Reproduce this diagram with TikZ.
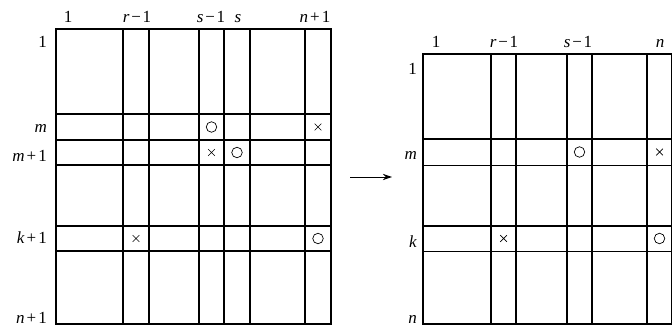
\documentclass[tikz,border=0pt]{standalone}
\usepackage{fontspec}
\setmainfont{Liberation Serif}
\usetikzlibrary{arrows.meta,shapes.misc}
\tikzset{
  gridline/.style={line width=1.3pt,line cap=rect},
  lbl/.style={font=\fontsize{17}{19}\selectfont,inner sep=0pt},
  toplbl/.style={lbl,anchor=base},
  rowlbl/.style={lbl,anchor=base east},
  ringmark/.style={circle,draw,line width=0.7pt,minimum size=10.5pt,inner sep=0pt},
  crossmark/.style={cross out,draw,line width=0.7pt,minimum size=6pt,inner sep=0pt},
  flow/.style={-{Stealth[length=3.2mm,width=2.2mm]},line width=1pt}
}
\newcommand{\plusone}[1]{\textit{#1}\hspace{0.12em}+\hspace{0.12em}1}
\newcommand{\minusone}[1]{\textit{#1}\hspace{0.1em}−\hspace{0.1em}1}
\begin{document}
\begin{tikzpicture}[x=1pt,y=-1pt]
  \useasboundingbox (0,0) rectangle (672,326);
  % left grid
  \foreach \gx in {56,123,149,199,224,250,305,331}
    \draw[gridline] (\gx,29) -- (\gx,324);
  \foreach \gy in {29,114,140,165,226,251,324}
    \draw[gridline] (56,\gy) -- (331,\gy);
  \node[toplbl] (lc1) at (68,23) {1};
  \node[toplbl] (lcr) at (137,23) {\minusone{r}};
  \node[toplbl] (lcs1) at (211,23) {\minusone{s}};
  \node[toplbl] (lcs) at (238,23) {\textit{s}};
  \node[toplbl] (lcn) at (315,23) {\plusone{n}};
  \node[rowlbl] (lr1) at (47,48) {1};
  \node[rowlbl] (lrm) at (47,132) {\textit{m}};
  \node[rowlbl] (lrm1) at (47,161) {\plusone{m}};
  \node[rowlbl] (lrk) at (47,243) {\plusone{k}};
  \node[rowlbl] (lrn) at (47,323) {\plusone{n}};
  \node[ringmark] (la) at (211.5,127) {};
  \node[crossmark] (lb) at (318,127) {};
  \node[crossmark] (lc) at (211.5,152.5) {};
  \node[ringmark] (ld) at (237,152.5) {};
  \node[crossmark] (le) at (136,238.5) {};
  \node[ringmark] (lf) at (318,238.5) {};
  % arrow
  \coordinate (from) at (350,177);
  \coordinate (to) at (392,177);
  \draw[flow] (from) -- (to);
  % right grid
  \foreach \gx in {423,491,516,567,592,647,672}
    \draw[gridline] (\gx,54) -- (\gx,324);
  \foreach \gy in {54,139,165.5,226,251.5,324}
    \draw[gridline] (423,\gy) -- (672,\gy);
  \node[toplbl] (rc1) at (436,48) {1};
  \node[toplbl] (rcr) at (504,48) {\minusone{r}};
  \node[toplbl] (rcs) at (578,48) {\minusone{s}};
  \node[toplbl] (rcn) at (660,48) {\textit{n}};
  \node[rowlbl] (rr1) at (417,75) {1};
  \node[rowlbl] (rrm) at (417,160) {\textit{m}};
  \node[rowlbl] (rrk) at (417,247) {\textit{k}};
  \node[rowlbl] (rrn) at (417,323) {\textit{n}};
  \node[ringmark] (ra) at (579.5,152) {};
  \node[crossmark] (rb) at (659.5,152) {};
  \node[crossmark] (rc) at (503.5,238.5) {};
  \node[ringmark] (rd) at (659.5,238.5) {};
\end{tikzpicture}
\end{document}
